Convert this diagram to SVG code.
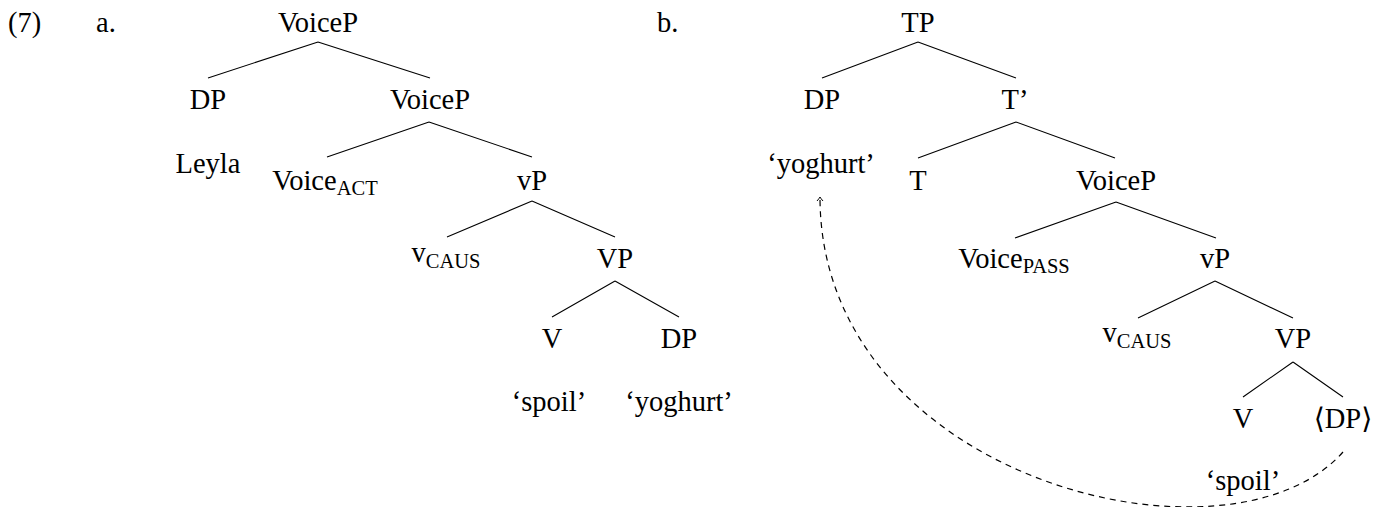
<svg xmlns="http://www.w3.org/2000/svg" width="1378" height="507" viewBox="0 0 1378 507">
<style>
text{font-family:"Liberation Serif","Times New Roman","DejaVu Serif",serif;font-size:28.5px;fill:#000}
.m{text-anchor:middle}
.sub{font-size:20.5px}
.edge{stroke:#000;stroke-width:1.1;fill:none}
.move{stroke:#000;stroke-width:1.2;fill:none;stroke-dasharray:6 5}
</style>
<defs>
<marker id="tip" markerWidth="10" markerHeight="10" refX="0" refY="0" viewBox="-6 -5 8 10" orient="auto" markerUnits="userSpaceOnUse">
<path d="M-4,-3 Q-1.5,-0.8 0,0 Q-1.5,0.8 -4,3" stroke="#000" stroke-width="1" fill="none"/>
</marker>
</defs>
<g id="labels">
<text x="8" y="32">(7)</text>
<text x="96" y="32">a.</text>
<text x="657" y="32">b.</text>
</g>
<g id="connectors">
<path class="edge" d="M318,42 L208,78 M318,42 L430,78"/>
<path class="edge" d="M429,122 L327,157 M429,122 L532,157"/>
<path class="edge" d="M532,201 L447,237 M532,201 L615,237"/>
<path class="edge" d="M615,281 L552,317 M615,281 L679,317"/>
<path class="edge" d="M918,42 L822,78 M918,42 L1016,78"/>
<path class="edge" d="M1016,122 L918,158 M1016,122 L1115,158"/>
<path class="edge" d="M1116,202 L1015,238 M1116,202 L1216,238"/>
<path class="edge" d="M1215,281 L1138,318 M1215,281 L1293,318"/>
<path class="edge" d="M1293,362 L1243,397 M1293,362 L1343,397"/>
<path class="move" d="M1343,452 C1230,580 820,480 820,197" marker-end="url(#tip)"/>
</g>
<g id="a-VoiceP"><text class="m" x="318" y="32">VoiceP</text></g>
<g id="a-DP"><text class="m" x="208" y="109">DP</text></g>
<g id="a-Leyla"><text class="m" x="208" y="173">Leyla</text></g>
<g id="a-VoiceP2"><text class="m" x="430" y="109">VoiceP</text></g>
<g id="a-VoiceACT"><text class="m" x="325" y="190">Voice<tspan class="sub" dy="5">ACT</tspan></text></g>
<g id="a-vP"><text class="m" x="532" y="190">vP</text></g>
<g id="a-vCAUS"><text class="m" x="446" y="262">v<tspan class="sub" dy="6">CAUS</tspan></text></g>
<g id="a-VP"><text class="m" x="615" y="268">VP</text></g>
<g id="a-V"><text class="m" x="552" y="348">V</text></g>
<g id="a-DP2"><text class="m" x="679" y="348">DP</text></g>
<g id="a-spoil"><text class="m" x="549" y="411">‘spoil’</text></g>
<g id="a-yoghurt"><text class="m" x="679" y="411">‘yoghurt’</text></g>
<g id="b-TP"><text class="m" x="918" y="32">TP</text></g>
<g id="b-DP"><text class="m" x="822" y="109">DP</text></g>
<g id="b-yoghurt"><text class="m" x="821" y="173">‘yoghurt’</text></g>
<g id="b-Tbar"><text class="m" x="1015" y="109">T’</text></g>
<g id="b-T"><text class="m" x="918" y="190">T</text></g>
<g id="b-VoiceP"><text class="m" x="1116" y="190">VoiceP</text></g>
<g id="b-VoicePASS"><text class="m" x="1014" y="268">Voice<tspan class="sub" dy="5">PASS</tspan></text></g>
<g id="b-vP"><text class="m" x="1215" y="268">vP</text></g>
<g id="b-vCAUS"><text class="m" x="1137" y="342">v<tspan class="sub" dy="6">CAUS</tspan></text></g>
<g id="b-VP"><text class="m" x="1293" y="348">VP</text></g>
<g id="b-V"><text class="m" x="1243" y="428">V</text></g>
<g id="b-tDP"><text class="m" x="1343" y="428">⟨DP⟩</text></g>
<g id="b-spoil"><text class="m" x="1243" y="490">‘spoil’</text></g>
</svg>
